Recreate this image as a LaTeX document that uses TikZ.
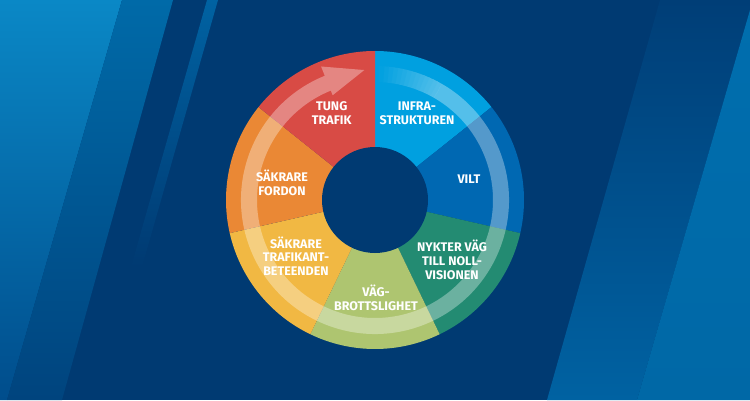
\documentclass[tikz,border=0pt]{standalone}
\usepackage{fontspec}
\setmainfont{Fira Sans}
\definecolor{navy}{HTML}{003A72}
\definecolor{cInfra}{HTML}{00A0E0}
\definecolor{cVilt}{HTML}{0068B2}
\definecolor{cNykter}{HTML}{238B72}
\definecolor{cVag}{HTML}{AEC570}
\definecolor{cTrafikant}{HTML}{F1B843}
\definecolor{cFordon}{HTML}{EA8835}
\definecolor{cTung}{HTML}{D84B45}
\definecolor{bgLightTop}{HTML}{0A88C6}
\definecolor{bgLightBot}{HTML}{004D8C}
\definecolor{bgMedTop}{HTML}{006AA8}
\definecolor{bgMedBot}{HTML}{00447E}
\definecolor{bgThin}{HTML}{0062A2}
\definecolor{bgRMedTop}{HTML}{003E77}
\definecolor{bgRMedBot}{HTML}{0062A2}
\definecolor{bgRLightTop}{HTML}{006EAE}
\definecolor{bgRLightBot}{HTML}{0068A6}
\begin{document}
\begin{tikzpicture}[x=1pt,y=1pt,
  lab/.style={text=white, font=\bfseries\fontsize{12.5}{13.7}\selectfont, align=center, inner sep=0pt},
  ringband/.style={fill=white, fill opacity=0.33}]
\useasboundingbox (0,0) rectangle (750,400);
% background
\fill[navy] (0,0) rectangle (750,400);
\shade[top color=bgLightTop, bottom color=bgLightBot] (0,400) -- (122,400) -- (7,0) -- (0,0) -- cycle;
\shade[top color=bgMedTop, bottom color=bgMedBot] (122,400) -- (173,400) -- (62,0) -- (7,0) -- cycle;
\shade[top color=bgThin, bottom color=navy] (207,400) -- (218,400) -- (142,133) -- (131,133) -- cycle;
\shade[top color=bgRMedTop, bottom color=bgRMedBot] (547,0) -- (660,400) -- (750,400) -- (750,390) -- (637,0) -- cycle;
\shade[top color=bgRLightTop, bottom color=bgRLightBot] (637,0) -- (750,390) -- (750,0) -- cycle;
% donut
\begin{scope}[shift={(375,200)}]
  \foreach \a/\b/\c in {38.571/90/cInfra, -12.857/38.571/cVilt, -64.286/-12.857/cNykter,
     -115.714/-64.286/cVag, -167.143/-115.714/cTrafikant, -218.571/-167.143/cFordon, -270/-218.571/cTung}
    \fill[\c] (0,0) -- (\a:149) arc[start angle=\a, end angle=\b, radius=149] -- cycle;
  % fading start of the ring band
  \foreach \i in {0,...,13} {
    \pgfmathsetmacro\s{60+2*\i}
    \pgfmathsetmacro\e{62.4+2*\i}
    \pgfmathsetmacro\w{33*(1-(\i+0.5)/14)}
    \fill[white!\w!cInfra] (\s:118) arc[start angle=\s, end angle=\e, radius=118]
      -- (\e:134) arc[start angle=\e, end angle=\s, radius=134] -- cycle;
  }
  % ring band with arrow head
  \fill[ringband] (60:118) arc[start angle=60, end angle=-248, radius=118]
     -- (-248:113) -- (94.7:130.4) -- (-248:144) -- (-248:134)
     arc[start angle=-248, end angle=60, radius=134] -- cycle;
  % hole
  \fill[navy] (0,0) circle[radius=53];
\end{scope}
% labels
\node[lab] (tung) at (331.7,287) {TUNG\\TRAFIK};
\node[lab] (infra) at (417,287) {INFRA-\\STRUKTUREN};
\node[lab] (vilt) at (469,221) {VILT};
\node[lab] (nykter) at (452,140) {NYKTER VÄG\\TILL NOLL-\\VISIONEN};
\node[lab] (vag) at (376,102.5) {VÄG-\\BROTTSLIGHET};
\node[lab] (trafikant) at (296,144) {SÄKRARE\\TRAFIKANT-\\BETEENDEN};
\node[lab] (fordon) at (282,217) {SÄKRARE\\FORDON};
\end{tikzpicture}
\end{document}
